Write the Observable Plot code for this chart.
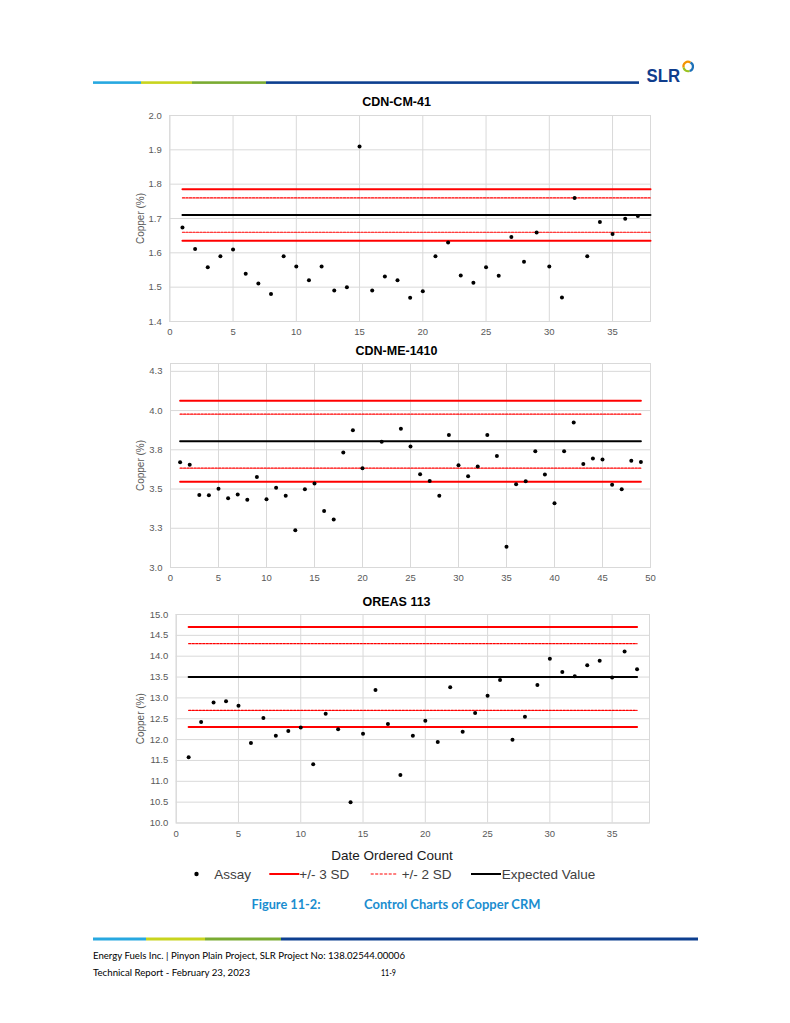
<!DOCTYPE html>
<html>
<head>
<meta charset="utf-8">
<script src="https://cdn.jsdelivr.net/npm/d3@7"></script>
<script src="https://cdn.jsdelivr.net/npm/@observablehq/plot@0.6"></script>
<style>
  html, body { margin: 0; padding: 0; background: #fff; }
  #page { position: relative; width: 790px; height: 1023px; overflow: hidden; background: #fff; }
  .chart { position: absolute; left: 0; }
  #overlay { position: absolute; left: 0; top: 0; }
</style>
</head>
<body>
<div id="page">
  <div id="c1" class="chart" style="top:80px"></div>
  <div id="c2" class="chart" style="top:330.3px"></div>
  <div id="c3" class="chart" style="top:580px"></div>
  <svg id="overlay" width="790" height="1023" xmlns="http://www.w3.org/2000/svg">
    <!-- header rule -->
    <rect x="93" y="81.3" width="48" height="2.6" fill="#27a8e0"/>
    <rect x="141" y="81.3" width="51" height="2.6" fill="#c8d41e"/>
    <rect x="192" y="81.3" width="74" height="2.6" fill="#7aab32"/>
    <rect x="266" y="81.3" width="373" height="2.6" fill="#0d3f8f"/>
    <text x="646.5" y="81.7" font-family="Liberation Sans, Arial, sans-serif" font-weight="bold" font-size="18.5" fill="#0f3d8c" textLength="33.5" lengthAdjust="spacingAndGlyphs">SLR</text>
    <g fill="none" stroke-width="2.2">
      <path d="M 683.6 67.5 A 4.5 4.5 0 0 1 690.5 62.6" stroke="#f39200"/>
      <path d="M 690.5 62.6 A 4.5 4.5 0 0 1 689.5 71.0" stroke="#1d71b8"/>
      <path d="M 689.5 71.0 A 4.5 4.5 0 0 1 683.6 67.5" stroke="#9bc31f"/>
    </g>
    <!-- legend -->
    <text x="392" y="860" text-anchor="middle" font-family="Liberation Sans, Arial, sans-serif" font-size="13.5" fill="#1a1a1a">Date Ordered Count</text>
    <circle cx="196.5" cy="874" r="2.2" fill="#000"/>
    <text x="214.3" y="878.8" font-family="Liberation Sans, Arial, sans-serif" font-size="13.5" fill="#404040">Assay</text>
    <line x1="269.3" x2="299.3" y1="874" y2="874" stroke="#ff0000" stroke-width="2"/>
    <text x="299.3" y="878.8" font-family="Liberation Sans, Arial, sans-serif" font-size="13.5" fill="#404040">+/- 3 SD</text>
    <line x1="370.7" x2="396.7" y1="874" y2="874" stroke="#ff0000" stroke-width="1.2" stroke-dasharray="3,1.5"/>
    <text x="401.7" y="878.8" font-family="Liberation Sans, Arial, sans-serif" font-size="13.5" fill="#404040">+/- 2 SD</text>
    <line x1="471" x2="501" y1="874" y2="874" stroke="#000" stroke-width="2"/>
    <text x="501.7" y="878.8" font-family="Liberation Sans, Arial, sans-serif" font-size="13.5" fill="#404040">Expected Value</text>
    <!-- caption -->
    <text x="251.5" y="908.5" font-family="Lato, 'Open Sans', sans-serif" font-weight="bold" font-size="13" fill="#1a8dcf" textLength="69" lengthAdjust="spacingAndGlyphs">Figure 11-2:</text>
    <text x="364" y="908.5" font-family="Lato, 'Open Sans', sans-serif" font-weight="bold" font-size="13" fill="#1a8dcf" textLength="176.5" lengthAdjust="spacingAndGlyphs">Control Charts of Copper CRM</text>
    <!-- footer rule -->
    <rect x="93" y="937.5" width="53" height="3" fill="#27a8e0"/>
    <rect x="146" y="937.5" width="59" height="3" fill="#c8d41e"/>
    <rect x="205" y="937.5" width="76" height="3" fill="#7aab32"/>
    <rect x="281" y="937.5" width="417" height="3" fill="#0d3f8f"/>
    <text x="93" y="959" font-family="Lato, 'Open Sans', sans-serif" font-size="10" fill="#000" textLength="312" lengthAdjust="spacingAndGlyphs">Energy Fuels Inc. | Pinyon Plain Project, SLR Project No:  138.02544.00006</text>
    <text x="93" y="976" font-family="Lato, 'Open Sans', sans-serif" font-size="10" fill="#000" textLength="157" lengthAdjust="spacingAndGlyphs">Technical Report -  February 23, 2023</text>
    <text x="381" y="976" font-family="Lato, 'Open Sans', sans-serif" font-size="10" fill="#000" textLength="15" lengthAdjust="spacingAndGlyphs">11-9</text>
  </svg>
</div>
<script>
// ---------------- DATA ----------------
// CDN-CM-41
const cm41Count = [1,2,3,4,5,6,7,8,9,10,11,12,13,14,15,16,17,18,19,20,21,22,23,24,25,26,27,28,29,30,31,32,33,34,35,36,37];
const cm41Copper = [1.674,1.611,1.558,1.590,1.610,1.539,1.511,1.480,1.590,1.560,1.520,1.560,1.490,1.500,1.910,1.490,1.531,1.520,1.469,1.488,1.590,1.630,1.534,1.513,1.558,1.533,1.646,1.574,1.659,1.560,1.470,1.760,1.590,1.690,1.655,1.699,1.707];
const cm41Expected = 1.71;
const cm41SD3 = [1.785, 1.635];
const cm41SD2 = [1.76, 1.66];
const cm41LineSpan = [1, 38];

// CDN-ME-1410
const me1410Count = [1,2,3,4,5,6,7,8,9,10,11,12,13,14,15,16,17,18,19,20,22,24,25,26,27,28,29,30,31,32,33,34,35,36,37,38,39,40,41,42,43,44,45,46,47,48,49];
const me1410Copper = [3.671,3.654,3.4625,3.460,3.502,3.442,3.465,3.431,3.577,3.435,3.508,3.458,3.2375,3.498,3.535,3.360,3.306,3.733,3.875,3.633,3.802,3.884,3.771,3.595,3.552,3.458,3.844,3.652,3.582,3.643,3.844,3.711,3.133,3.531,3.550,3.741,3.592,3.410,3.741,3.924,3.659,3.694,3.688,3.528,3.499,3.681,3.673];
const me1410Expected = 3.805;
const me1410SD3 = [4.063, 3.547];
const me1410SD2 = [3.977, 3.633];
const me1410LineSpan = [1, 49];

// OREAS 113
const oreasCount = [1,2,3,4,5,6,7,8,9,10,11,12,13,14,15,16,17,18,19,20,21,22,23,24,25,26,27,28,29,30,31,32,33,34,35,36,37];
const oreasCopper = [11.575,12.42,12.89,12.92,12.81,11.92,12.52,12.09,12.205,12.29,11.41,12.62,12.25,10.50,12.14,13.19,12.375,11.15,12.09,12.45,11.94,13.255,12.19,12.64,13.05,13.43,11.995,12.545,13.31,13.94,13.62,13.52,13.78,13.89,13.49,14.11,13.69];
const oreasExpected = 13.5;
const oreasSD3 = [14.7, 12.3];
const oreasSD2 = [14.3, 12.7];
const oreasLineSpan = [1, 37];

// Axis ticks
const cm41YTicks = [1.4,1.5,1.6,1.7,1.8,1.9,2.0];
const cm41XTicks = [0,5,10,15,20,25,30,35];
const me1410YTicks = [3.0,3.25,3.5,3.75,4.0,4.25];
const me1410XTicks = [0,5,10,15,20,25,30,35,40,45,50];
const oreasYTicks = [10.0,10.5,11.0,11.5,12.0,12.5,13.0,13.5,14.0,14.5,15.0];
const oreasXTicks = [0,5,10,15,20,25,30,35];

// ---------------- CHART ----------------
function controlChart(cfg) {
  const pts = cfg.count.map((c, i) => ({count: c, copper: cfg.copper[i]}));
  const seg = (v, id) => cfg.span.map(x => ({x, y: v, id}));
  const sd3 = cfg.sd3.flatMap((v, i) => seg(v, "s3-" + i));
  const sd2 = cfg.sd2.flatMap((v, i) => seg(v, "s2-" + i));
  const ev = seg(cfg.expected, "ev");
  const fmt = d3.format(".1f");
  return Plot.plot({
    width: 790,
    height: cfg.marginTop + cfg.plotHeight + 30,
    marginLeft: cfg.left,
    marginRight: 790 - cfg.right,
    marginTop: cfg.marginTop,
    marginBottom: 30,
    x: {domain: cfg.xDomain},
    y: {domain: cfg.yDomain},
    style: {fontFamily: "'Liberation Sans', Arial, sans-serif", fontSize: "9.5px", color: "#595959", background: "transparent", overflow: "visible"},
    marks: [
      Plot.gridY(cfg.yTicks, {stroke: "#d9d9d9", strokeOpacity: 1, strokeWidth: 1}),
      Plot.gridX(cfg.xTicks, {stroke: "#d9d9d9", strokeOpacity: 1, strokeWidth: 1}),
      Plot.frame({stroke: "#d9d9d9", strokeWidth: 1}),
      Plot.axisY(cfg.yTicks, {tickSize: 0, tickPadding: 8, tickFormat: fmt, label: null, fill: "#595959"}),
      Plot.axisX(cfg.xTicks, {tickSize: 0, tickPadding: 7, label: null, fill: "#595959"}),
      Plot.text(["Copper (%)"], {frameAnchor: "left", rotate: -90, dx: cfg.labelDx, fill: "#595959", fontSize: 10, textAnchor: "middle", lineAnchor: "middle"}),
      Plot.text([cfg.title], {frameAnchor: "top", dx: 396 - (cfg.left + cfg.right) / 2, dy: cfg.titleDy, fontWeight: "bold", fontSize: 12.5, fill: "#000", lineAnchor: "middle"}),
      Plot.line(sd2, {x: "x", y: "y", z: "id", stroke: "#ff0000", strokeWidth: 1.2, strokeDasharray: "2.2,1.3"}),
      Plot.line(sd3, {x: "x", y: "y", z: "id", stroke: "#ff0000", strokeWidth: 2}),
      Plot.line(ev, {x: "x", y: "y", stroke: "#000000", strokeWidth: 2}),
      Plot.dot(pts, {x: "count", y: "copper", r: 2, fill: "#000", stroke: "none"})
    ]
  });
}

document.getElementById("c1").append(controlChart({
  title: "CDN-CM-41", count: cm41Count, copper: cm41Copper, expected: cm41Expected,
  sd3: cm41SD3, sd2: cm41SD2, span: cm41LineSpan,
  xDomain: [0, 38], yDomain: [1.4, 2.0], xTicks: cm41XTicks, yTicks: cm41YTicks,
  left: 169.3, right: 650, marginTop: 35, plotHeight: 206, labelDx: -29, titleDy: -14
}));
document.getElementById("c2").append(controlChart({
  title: "CDN-ME-1410", count: me1410Count, copper: me1410Copper, expected: me1410Expected,
  sd3: me1410SD3, sd2: me1410SD2, span: me1410LineSpan,
  xDomain: [0, 50], yDomain: [3.0, 4.3], xTicks: me1410XTicks, yTicks: me1410YTicks,
  left: 170, right: 650, marginTop: 33, plotHeight: 204, labelDx: -30, titleDy: -13
}));
document.getElementById("c3").append(controlChart({
  title: "OREAS 113", count: oreasCount, copper: oreasCopper, expected: oreasExpected,
  sd3: oreasSD3, sd2: oreasSD2, span: oreasLineSpan,
  xDomain: [0, 38], yDomain: [10.0, 15.0], xTicks: oreasXTicks, yTicks: oreasYTicks,
  left: 175.7, right: 649, marginTop: 34, plotHeight: 208.5, labelDx: -35, titleDy: -13
}));
</script>
</body>
</html>
